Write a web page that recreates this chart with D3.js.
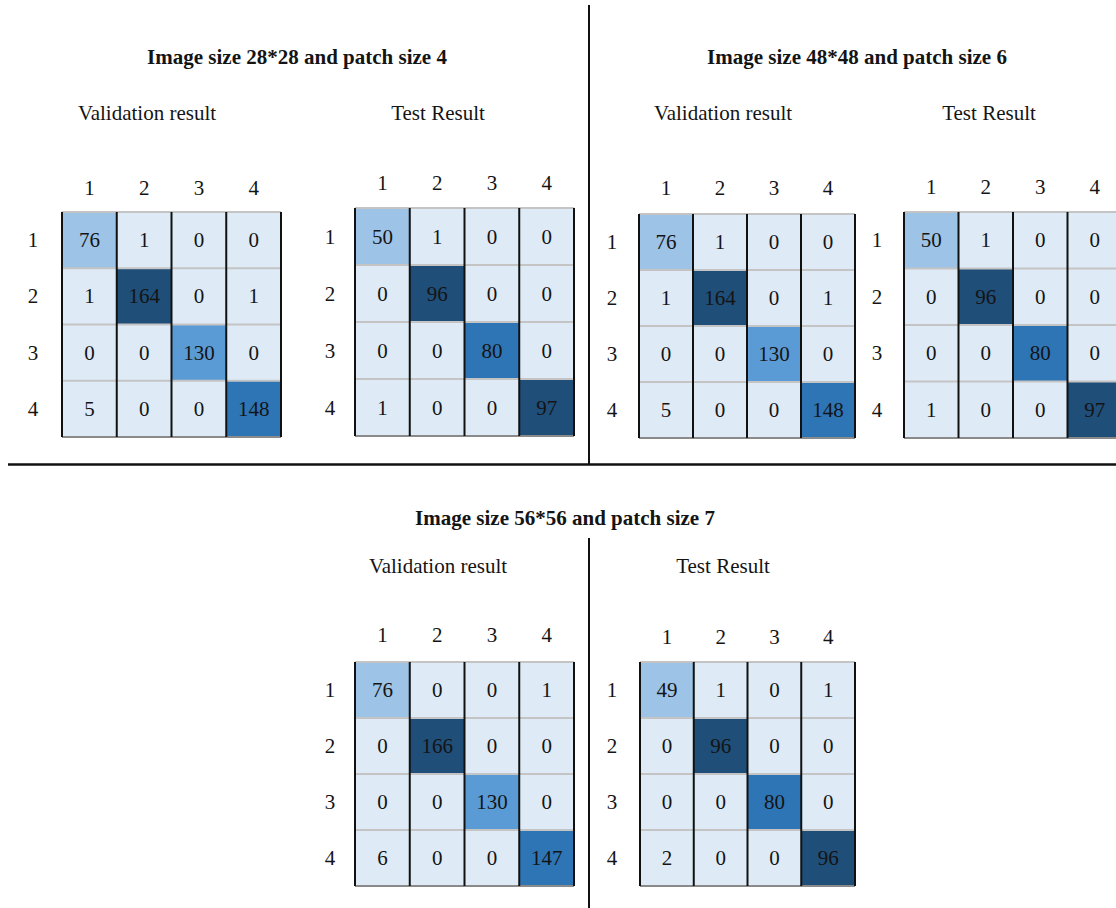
<!DOCTYPE html>
<html>
<head>
<meta charset="utf-8">
<script src="https://cdn.jsdelivr.net/npm/d3@7/dist/d3.min.js"></script>
<style>
  html, body { margin: 0; padding: 0; background: #fff; }
  svg { display: block; }
  text { font-family: "Liberation Serif", "Times New Roman", serif; fill: #141414; }
</style>
</head>
<body>
<svg id="chart" width="1116" height="908"></svg>
<script>
// ---- data ----
const classLabels = ["1", "2", "3", "4"];
const groupTitles = [
  "Image size 28*28 and patch size 4",
  "Image size 48*48 and patch size 6",
  "Image size 56*56 and patch size 7"
];
const panelTitles = ["Validation result", "Test Result"];
const val28 = [[76, 1, 0, 0], [1, 164, 0, 1], [0, 0, 130, 0], [5, 0, 0, 148]];
const test28 = [[50, 1, 0, 0], [0, 96, 0, 0], [0, 0, 80, 0], [1, 0, 0, 97]];
const val48 = [[76, 1, 0, 0], [1, 164, 0, 1], [0, 0, 130, 0], [5, 0, 0, 148]];
const test48 = [[50, 1, 0, 0], [0, 96, 0, 0], [0, 0, 80, 0], [1, 0, 0, 97]];
const val56 = [[76, 0, 0, 1], [0, 166, 0, 0], [0, 0, 130, 0], [6, 0, 0, 147]];
const test56 = [[49, 1, 0, 1], [0, 96, 0, 0], [0, 0, 80, 0], [2, 0, 0, 96]];

// ---- colour scales (Office blue shades) ----
const valColor = d3.scaleThreshold()
  .domain([10, 100, 140, 160])
  .range(["#deebf7", "#9dc3e6", "#5b9bd5", "#2e75b6", "#1f4e79"]);
const testColor = d3.scaleThreshold()
  .domain([10, 60, 90])
  .range(["#deebf7", "#9dc3e6", "#2e75b6", "#1f4e79"]);

const svg = d3.select("#chart");
const FS = 21;

// ---- separators ----
const sep = svg.append("g").attr("stroke", "#111").attr("stroke-width", 2);
sep.append("line").attr("x1", 589).attr("x2", 589).attr("y1", 5).attr("y2", 464);
sep.append("line").attr("x1", 8).attr("x2", 1116).attr("y1", 464.5).attr("y2", 464.5).attr("stroke-width", 2.5);
sep.append("line").attr("x1", 589).attr("x2", 589).attr("y1", 538).attr("y2", 908);

// ---- group titles ----
const titlePos = [[297, 64], [857, 64], [565, 525]];
groupTitles.forEach((t, i) => {
  svg.append("text")
    .attr("x", titlePos[i][0]).attr("y", titlePos[i][1])
    .attr("text-anchor", "middle")
    .attr("font-size", FS).attr("font-weight", "bold")
    .text(t);
});

// ---- panels ----
const panels = [
  { m: val28, color: valColor, title: 0, x0: 62, x1: 281, y0: 212, y1: 437, colLabelY: 195, rowLabelX: 33, tx: 147, ty: 120 },
  { m: test28, color: testColor, title: 1, x0: 355, x1: 574, y0: 208, y1: 436, colLabelY: 190, rowLabelX: 330, tx: 438, ty: 120 },
  { m: val48, color: valColor, title: 0, x0: 639, x1: 855, y0: 214, y1: 438, colLabelY: 195, rowLabelX: 612, tx: 723, ty: 120 },
  { m: test48, color: testColor, title: 1, x0: 904, x1: 1122, y0: 212, y1: 438, colLabelY: 194, rowLabelX: 877, tx: 989, ty: 120 },
  { m: val56, color: valColor, title: 0, x0: 355, x1: 574, y0: 662, y1: 886, colLabelY: 642, rowLabelX: 330, tx: 438, ty: 573 },
  { m: test56, color: testColor, title: 1, x0: 640, x1: 855, y0: 662, y1: 886, colLabelY: 644, rowLabelX: 612, tx: 723, ty: 573 }
];

panels.forEach(p => {
  const g = svg.append("g");
  const x = d3.scaleBand().domain(classLabels).range([p.x0, p.x1]);
  const y = d3.scaleBand().domain(classLabels).range([p.y0, p.y1]);

  g.append("text")
    .attr("x", p.tx).attr("y", p.ty)
    .attr("text-anchor", "middle").attr("font-size", FS)
    .text(panelTitles[p.title]);

  const cells = [];
  p.m.forEach((row, i) => row.forEach((v, j) => cells.push({ r: classLabels[i], c: classLabels[j], v })));

  g.selectAll("rect.cell").data(cells).join("rect")
    .attr("class", "cell")
    .attr("x", d => x(d.c)).attr("y", d => y(d.r))
    .attr("width", x.bandwidth()).attr("height", y.bandwidth())
    .attr("fill", d => p.color(d.v));

  // horizontal grey rules
  const hs = classLabels.map(l => y(l)).concat([p.y1]);
  g.selectAll("line.h").data(hs).join("line")
    .attr("class", "h")
    .attr("x1", p.x0).attr("x2", p.x1)
    .attr("y1", d => d).attr("y2", d => d)
    .attr("stroke", (d, i) => i === hs.length - 1 ? "#8a8a8a" : "#c4c4c4")
    .attr("stroke-width", 2);

  // vertical black rules
  const vs = classLabels.map(l => x(l)).concat([p.x1]);
  g.selectAll("line.v").data(vs).join("line")
    .attr("class", "v")
    .attr("x1", d => d).attr("x2", d => d)
    .attr("y1", p.y0).attr("y2", p.y1)
    .attr("stroke", "#111").attr("stroke-width", 2);

  g.selectAll("text.val").data(cells).join("text")
    .attr("class", "val")
    .attr("x", d => x(d.c) + x.bandwidth() / 2)
    .attr("y", d => y(d.r) + y.bandwidth() / 2 + 7)
    .attr("text-anchor", "middle").attr("font-size", FS)
    .text(d => d.v);

  g.selectAll("text.col").data(classLabels).join("text")
    .attr("class", "col")
    .attr("x", d => x(d) + x.bandwidth() / 2).attr("y", p.colLabelY)
    .attr("text-anchor", "middle").attr("font-size", FS)
    .text(d => d);

  g.selectAll("text.row").data(classLabels).join("text")
    .attr("class", "row")
    .attr("x", p.rowLabelX)
    .attr("y", d => y(d) + y.bandwidth() / 2 + 7)
    .attr("text-anchor", "middle").attr("font-size", FS)
    .text(d => d);
});
</script>
</body>
</html>
